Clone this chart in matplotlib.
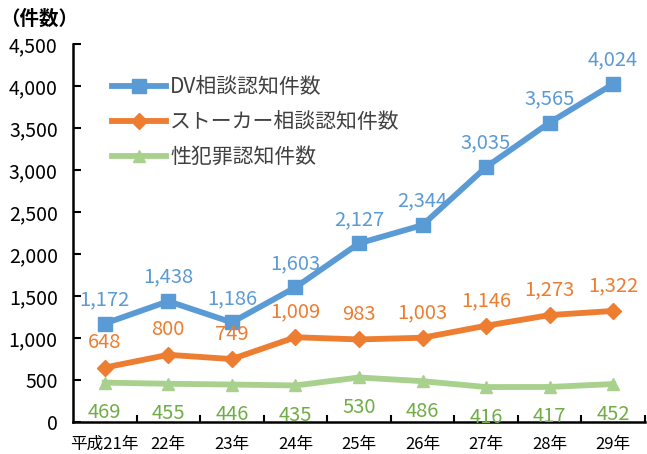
import numpy as np
import matplotlib
matplotlib.use("Agg")
import matplotlib.pyplot as plt

plt.rcParams['font.family'] = ['Noto Sans CJK JP', 'DejaVu Sans']

# データ
years = ['平成21年', '22年', '23年', '24年', '25年', '26年', '27年', '28年', '29年']
dv = [1172, 1438, 1186, 1603, 2127, 2344, 3035, 3565, 4024]
stalker = [648, 800, 749, 1009, 983, 1003, 1146, 1273, 1322]
sex_crime = [469, 455, 446, 435, 530, 486, 416, 417, 452]

series_names = ['DV相談認知件数', 'ストーカー相談認知件数', '性犯罪認知件数']

c_blue = '#5B9BD5'
c_orange = '#ED7D31'
c_green = '#A9D18E'
c_green_txt = '#70AD47'

fig = plt.figure(figsize=(6.47, 4.54), dpi=100)
ax = fig.add_axes([0.1128, 0.0705, 0.884, 0.8325])

x = np.arange(len(years))
ax.plot(x, dv, color=c_blue, lw=4.2, marker='s', ms=10, label=series_names[0])
ax.plot(x, stalker, color=c_orange, lw=4.2, marker='D', ms=8, label=series_names[1])
ax.plot(x, sex_crime, color=c_green, lw=4.2, marker='^', ms=8, label=series_names[2])

for xi, v in zip(x, dv):
    ax.annotate(f'{v:,}', (xi, v), xytext=(0, 24), textcoords='offset pixels',
                ha='center', va='center', fontsize=14.5, color=c_blue)
for xi, v in zip(x, stalker):
    ax.annotate(f'{v:,}', (xi, v), xytext=(0, 25), textcoords='offset pixels',
                ha='center', va='center', fontsize=14.5, color=c_orange)
for xi, v in zip(x, sex_crime):
    ax.annotate(f'{v:,}', (xi, v), xytext=(0, -30), textcoords='offset pixels',
                ha='center', va='center', fontsize=14.5, color=c_green_txt)

ax.set_xlim(-0.5, len(years) - 0.5)
ax.set_ylim(0, 4500)
ax.set_yticks(np.arange(0, 4501, 500))
ax.set_yticklabels([f'{v:,}' for v in range(0, 4501, 500)], fontsize=14)
ax.set_xticks(x + 0.5, minor=False)
ax.set_xticklabels([])
ax.set_xticks(x, minor=True)
ax.set_xticklabels(years, minor=True, fontsize=12)
ax.tick_params(axis='x', which='major', direction='in', length=5, width=1.5)
ax.tick_params(axis='x', which='minor', length=0, pad=10)
ax.tick_params(axis='y', direction='in', length=6, width=1.5, pad=11)

for s in ['top', 'right']:
    ax.spines[s].set_visible(False)
for s in ['left', 'bottom']:
    ax.spines[s].set_linewidth(1.8)

leg = ax.legend(loc='upper left', bbox_to_anchor=(0.035, 0.965), frameon=False,
                fontsize=15, handlelength=2.6, handletextpad=0.2, labelspacing=0.62)
for t in leg.get_texts():
    t.set_color('#404040')

fig.text(0.0, 0.98, '（件数）', fontsize=14, fontweight='bold', va='top', ha='left')

fig.savefig('out.png', dpi=100)
